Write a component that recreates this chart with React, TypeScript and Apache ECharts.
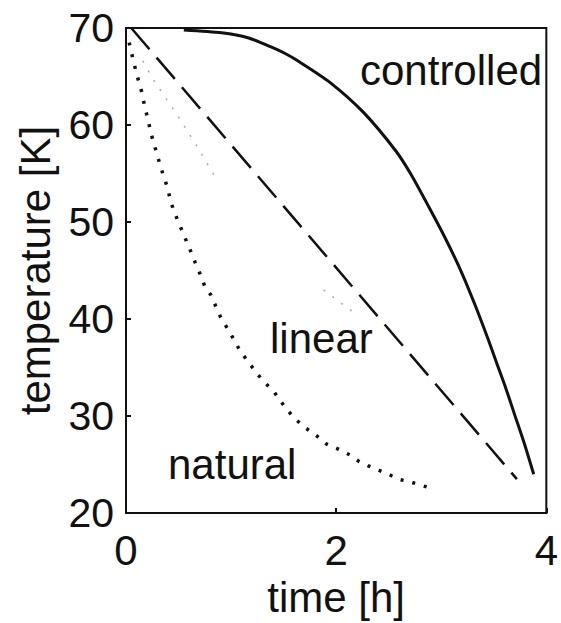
import React, { useEffect, useRef } from "react";
import * as echarts from "echarts";

const xTicks = [0, 2, 4];
const yTicks = [20, 30, 40, 50, 60, 70];

const controlledTime = [0.55, 0.91, 1.16, 1.38, 1.51, 1.63, 1.94, 2.26, 2.57, 2.71, 2.88, 3.04, 3.19, 3.32, 3.44, 3.53, 3.62, 3.7, 3.79, 3.88];
const controlledTemp = [69.8, 69.5, 69.0, 68.05, 67.4, 66.65, 64.4, 61.3, 57.3, 54.95, 51.6, 48.3, 44.9, 41.5, 38.1, 35.4, 32.7, 30.1, 27.2, 24.0];

const linearTime = [0.05, 3.72];
const linearTemp = [70, 23.5];

const naturalTime = [0.03, 0.066, 0.103, 0.15, 0.178, 0.206, 0.244, 0.3, 0.347, 0.393, 0.431, 0.487, 0.6, 0.656, 0.703, 0.749, 0.806, 0.9, 1.0, 1.087, 1.19, 1.283, 1.415, 1.508, 1.6, 1.705, 1.8, 1.91, 2.02, 2.13, 2.22, 2.3, 2.41, 2.5, 2.59, 2.71, 2.8, 2.89];
const naturalTemp = [68.5, 66.8, 65.2, 63.4, 61.9, 60.7, 58.9, 56.8, 55.1, 53.6, 51.9, 50.3, 47.4, 45.9, 44.7, 43.4, 42.5, 40.2, 38.4, 36.7, 35.2, 33.9, 32.4, 31.0, 29.8, 28.8, 28.1, 27.1, 26.6, 26.0, 25.3, 24.9, 24.4, 24.0, 23.5, 23.2, 22.9, 22.6];

const faintTime = [0.16, 0.27, 0.49, 0.67, 0.85, null, 1.88, 2.19];
const faintTemp = [66.6, 64.5, 61.0, 57.9, 54.6, null, 43.0, 40.5];

const labels = [
  { text: "controlled", x: 360, y: 85 },
  { text: "linear", x: 270, y: 353 },
  { text: "natural", x: 168, y: 479 },
];

const FONT = "'Liberation Sans', Arial, sans-serif";
const INK = "#111";

function pairs(xs: (number | null)[], ys: (number | null)[]) {
  return xs.map((x, i) => (x === null || ys[i] === null ? [null, null] : [x, ys[i]]));
}

export default function App() {
  const ref = useRef<HTMLDivElement>(null);
  useEffect(() => {
    if (!ref.current) return;
    const chart = echarts.init(ref.current, undefined, { renderer: "svg" });
    chart.setOption({
      animation: false,
      backgroundColor: "#fff",
      grid: {
        left: 126,
        top: 28,
        right: 8,
        bottom: 101,
        show: true,
        borderColor: INK,
        borderWidth: 2,
        backgroundColor: "transparent",
      },
      xAxis: {
        type: "value",
        min: xTicks[0],
        max: xTicks[xTicks.length - 1],
        interval: 2,
        name: "time [h]",
        nameLocation: "middle",
        nameGap: 54,
        nameTextStyle: { fontFamily: FONT, fontSize: 42, color: INK },
        axisLine: { show: true, lineStyle: { color: INK, width: 2 } },
        axisTick: { show: true, inside: true, length: 5, lineStyle: { color: INK, width: 2 } },
        axisLabel: { fontFamily: FONT, fontSize: 42, color: INK, margin: 16 },
        splitLine: { show: false },
      },
      yAxis: {
        type: "value",
        min: yTicks[0],
        max: yTicks[yTicks.length - 1],
        interval: 10,
        name: "temperature [K]",
        nameLocation: "middle",
        nameGap: 70,
        nameTextStyle: { fontFamily: FONT, fontSize: 42, color: INK },
        axisLine: { show: true, lineStyle: { color: INK, width: 2 } },
        axisTick: { show: true, inside: true, length: 5, lineStyle: { color: INK, width: 2 } },
        axisLabel: { fontFamily: FONT, fontSize: 41, color: INK, margin: 12 },
        splitLine: { show: false },
      },
      series: [
        {
          name: "faint",
          type: "line",
          data: pairs(faintTime, faintTemp),
          showSymbol: false,
          connectNulls: false,
          lineStyle: { color: "#aaa", width: 1.5, type: [2, 9] },
          silent: true,
        },
        {
          name: "controlled",
          type: "line",
          data: pairs(controlledTime, controlledTemp),
          showSymbol: false,
          smooth: 0.25,
          lineStyle: { color: INK, width: 3 },
        },
        {
          name: "linear",
          type: "line",
          data: pairs(linearTime, linearTemp),
          showSymbol: false,
          lineStyle: { color: INK, width: 2.5, type: [28, 11] },
        },
        {
          name: "natural",
          type: "line",
          data: pairs(naturalTime, naturalTemp),
          showSymbol: false,
          lineStyle: { color: INK, width: 3.5, type: [3, 9] },
        },
      ],
      graphic: labels.map((l) => ({
        type: "text",
        x: l.x,
        y: l.y - 14.5,
        style: {
          text: l.text,
          fontFamily: FONT,
          fontSize: 42,
          fill: INK,
          textAlign: "left",
          textVerticalAlign: "middle",
          verticalAlign: "middle",
        },
      })),
    });
    return () => chart.dispose();
  }, []);
  return (
    <div
      ref={ref}
      style={{ position: "fixed", left: 0, top: 0, width: 561, height: 623, background: "#fff" }}
    />
  );
}
